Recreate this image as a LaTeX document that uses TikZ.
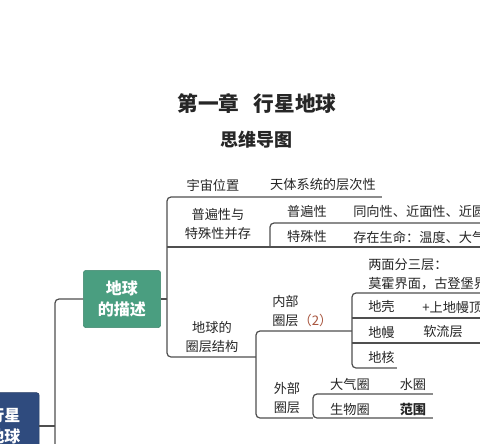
\documentclass[tikz,border=0pt]{standalone}
\usepackage{fontspec}
\setmainfont{Noto Sans CJK SC}
\usepackage{xcolor}
\usepackage{tikz}
\usetikzlibrary{positioning}

\definecolor{linegray}{HTML}{4F4F4F}
\definecolor{textgray}{HTML}{262626}
\definecolor{rootblue}{HTML}{2F4B7E}
\definecolor{descgreen}{HTML}{4A9E80}
\definecolor{numred}{HTML}{A8553E}

\tikzstyle{branch} = [draw=linegray,line width=0.9pt,rounded corners=3pt]
\tikzstyle{topic} = [font=\fontsize{9.9}{14}\selectfont,text=textgray,inner sep=0pt,align=center]
\tikzstyle{leaf} = [topic,anchor=west,align=left]
\tikzstyle{chaptitle} = [font=\fontsize{15.5}{18}\selectfont\bfseries,text=black!85]
\tikzstyle{maptitle} = [font=\fontsize{13.5}{16}\selectfont\bfseries,text=black!85]
\tikzstyle{mainbox} = [rounded corners=2pt,text=white,align=center,font=\fontsize{12}{16}\selectfont\bfseries]

\begin{document}
\begin{tikzpicture}[x=0.75pt,y=-0.75pt]
	% Canvas:
	\clip (0,0) rectangle (480,444);
	\fill[white] (0,0) rectangle (480,444);

	% Titles:
	\node[chaptitle] (title) at (257,104) {第一章\hspace{0.7em}行星地球};
	\node[maptitle] (subtitle) at (257,140) {思维导图};

	% Main boxes:
	\node[mainbox,fill=rootblue,draw=rootblue!80!black,minimum width=52pt,minimum height=50pt] (root) at (4.5,426) {行星\\地球};
	\node[mainbox,fill=descgreen,draw=descgreen!85!black,minimum width=58pt,minimum height=43pt] (desc) at (122,299) {地球\\的描述};

	% Junctions:
	% Every bracket gets a top, a bottom and a point where its parent comes in
	\coordinate (trunk) at (55,470);
	\coordinate (rim)   at (480,0);
	\coordinate (b1)    at (167,299);
	\coordinate (b1top) at (167,197);
	\coordinate (b1bot) at (167,357);
	\coordinate (hierend) at (382,197);
	\coordinate (split) at (167,247);
	\coordinate (b2top) at (270,223);
	\coordinate (b3)    at (256,357);
	\coordinate (b3top) at (256,331);
	\coordinate (b3bot) at (256,418);
	\coordinate (b4)    at (352,331);
	\coordinate (b4top) at (352,293);
	\coordinate (b4bot) at (352,368);
	\coordinate (b4one) at (352,318);
	\coordinate (b4two) at (352,343);
	\coordinate (coreend) at (397,368);
	\coordinate (b5top) at (313,394);
	\coordinate (b5bot) at (313,418);
	\coordinate (outend) at (433,0);

	% Texts:
	\node[topic] (univ) at (213,185) {宇宙位置};
	\node[topic] (hier) at (323,185) {天体系统的层次性};
	\node[topic] (unisp) at (218,224) {普遍性与\\特殊性并存};
	\node[topic] (gen) at (307,211) {普遍性};
	\node[topic] (spec) at (307,237) {特殊性};
	\node[leaf] (gentxt) at (353,211) {同向性、近面性、近圆};
	\node[leaf] (spectxt) at (353,237) {存在生命：温度、大气};
	\node[topic] (sphere) at (212,337) {地球的\\圈层结构};
	\node[leaf] (inner) at (272,311) {内部\\圈层{\color{numred}（2）}};
	\node[leaf] (faces) at (368,274) {两面分三层：\\莫霍界面，古登堡界};
	\node[leaf] (crust) at (368,307) {地壳};
	\node[leaf] (crusttxt) at (422,307) {+上地幔顶};
	\node[leaf] (mantle) at (368,332) {地幔};
	\node[leaf] (mantletxt) at (423,332) {软流层};
	\node[leaf] (core) at (368,357) {地核};
	\node[topic] (outer) at (287,398) {外部\\圈层};
	\node[topic] (atmo) at (350,384) {大气圈};
	\node[topic] (hydro) at (413,384) {水圈};
	\node[topic] (bio) at (350,409) {生物圈};
	\node[topic,font=\fontsize{9.9}{14}\selectfont\bfseries] (range) at (413,409) {范围};

	% Connectors:
	\draw[branch] (root.east) -- (root.east -| trunk);
	\draw[branch] (desc.west) -| (trunk);
	\draw[branch] (desc.east) -- (b1);
	\draw[branch] (hierend) -- (b1top) -- (b1bot) -- (b3);
	\draw[branch] (split) -- (split -| rim);
	\draw[branch] (b2top -| rim) -- (b2top) -- (split -| b2top);
	\draw[branch] (b4) -- (b3top) -- (b3bot) -- (b5bot);
	\draw[branch] (b4top -| rim) -- (b4top) -- (b4bot) -- (coreend);
	\draw[branch] (b4one) -- (b4one -| rim);
	\draw[branch] (b4two) -- (b4two -| rim);
	\draw[branch] (b5top -| outend) -- (b5top) -- (b5bot) -- (b5bot -| outend);
\end{tikzpicture}
\end{document}
